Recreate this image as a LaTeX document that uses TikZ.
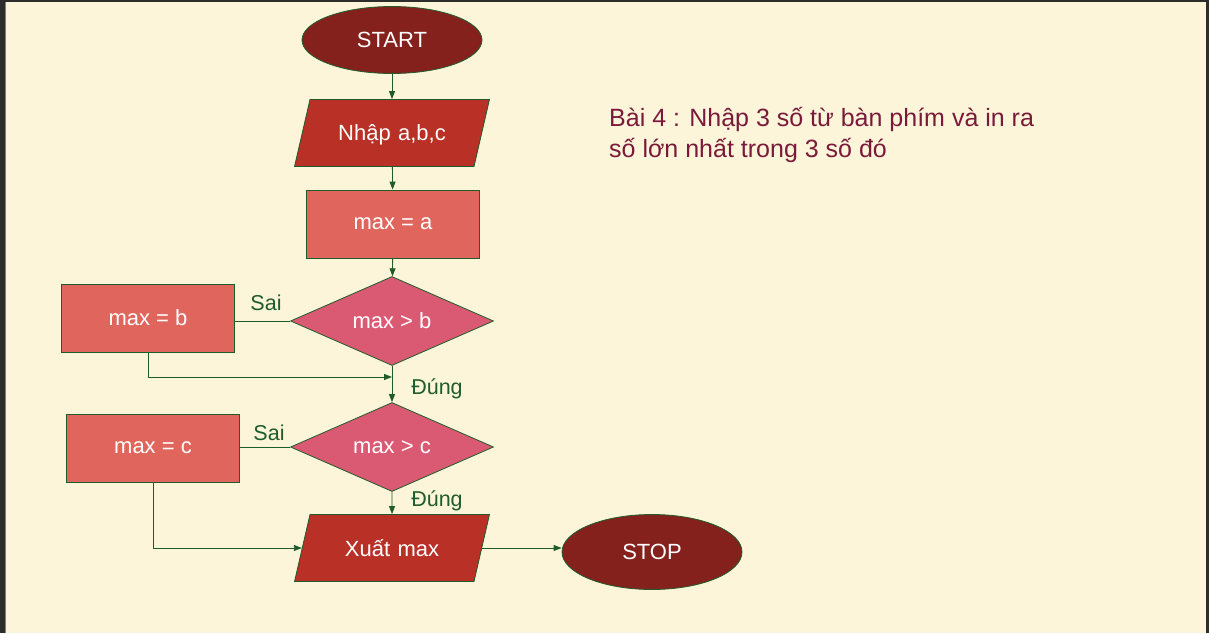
\documentclass[tikz,border=0pt]{standalone}
\usepackage{fontspec}
\setmainfont{Liberation Sans}
\usetikzlibrary{shapes.geometric,arrows.meta}
\definecolor{frame}{HTML}{2D2D2D}
\definecolor{paper}{HTML}{FDF5DA}
\definecolor{term}{HTML}{85211D}
\definecolor{io}{HTML}{B83026}
\definecolor{proc}{HTML}{E0665D}
\definecolor{cond}{HTML}{DB5A73}
\definecolor{wire}{HTML}{1F5C2C}
\definecolor{title}{HTML}{7A1A3A}
\begin{document}
\begin{tikzpicture}[x=1pt,y=-1pt,
  box/.style={draw=wire,line width=0.8pt,text=white,font=\fontsize{22}{26}\selectfont},
  stopstart/.style={box,ellipse,fill=term,minimum width=180pt,minimum height=67pt},
  inout/.style={box,trapezium,trapezium left angle=77,trapezium right angle=103,fill=io,text width=164pt,align=center,text height=17pt,text depth=1pt,inner ysep=24.5pt},
  assign/.style={box,rectangle,fill=proc,minimum width=173pt,minimum height=68pt},
  test/.style={box,diamond,aspect=2.3,fill=cond,minimum width=203pt,minimum height=89pt},
  flow/.style={wire,line width=0.8pt,-{Triangle[length=8pt,width=6pt]}},
  tag/.style={text=wire,font=\fontsize{21.5}{26}\selectfont}]
\tikzstyle{every node}+=[inner sep=0pt]
\fill [frame] (0,0) rectangle (1209,633);
\fill [paper] (6,2) rectangle (1206,633);
\draw [gray,line width=1pt] (5.5,2) -- (5.5,633);
\node [stopstart] (start) at (392,40) {START};
\node [inout] (nhap) at (392,133) {Nhập a,b,c};
\node [assign] (ma) at (393,224) {max = a};
\node [test] (db) at (392,321) {max > b};
\node [assign] (mb) at (148,318) {max = b};
\node [test] (dc) at (392,447) {max > c};
\node [assign] (mc) at (153,448) {max = c};
\node [inout] (xuat) at (392,548) {Xuất max};
\node [stopstart,minimum height=75pt] (stop) at (652,552) {STOP};
\node [text=title,font=\fontsize{25}{31}\selectfont,align=left,anchor=base west] (bai) at (609,158) {Bài 4 : Nhập 3 số từ bàn phím và in ra\\số lớn nhất trong 3 số đó};
\coordinate (jb) at (392,377);
\draw [flow] (start) -- (nhap);
\draw [flow] (nhap) -- (ma);
\draw [flow] (ma) -- (db);
\draw [wire,line width=0.8pt] (db.west) -- (mb.east |- db.west);
\node [tag] (saib) at (266,303) {Sai};
\draw [flow] (mb.south) |- (jb);
\draw [flow] (db.south) -- (dc.north);
\node [tag] (dungb) at (437,389) {Đúng};
\draw [wire,line width=0.8pt] (dc.west) -- (mc.east |- dc.west);
\node [tag] (saic) at (269,433) {Sai};
\draw [flow] (dc.south) -- (xuat.north);
\node [tag] (dungc) at (437,501) {Đúng};
\draw [flow] (mc.south) |- (xuat.west);
\draw [flow] (xuat.east) -- (xuat.east -| stop.west);
\end{tikzpicture}
\end{document}
